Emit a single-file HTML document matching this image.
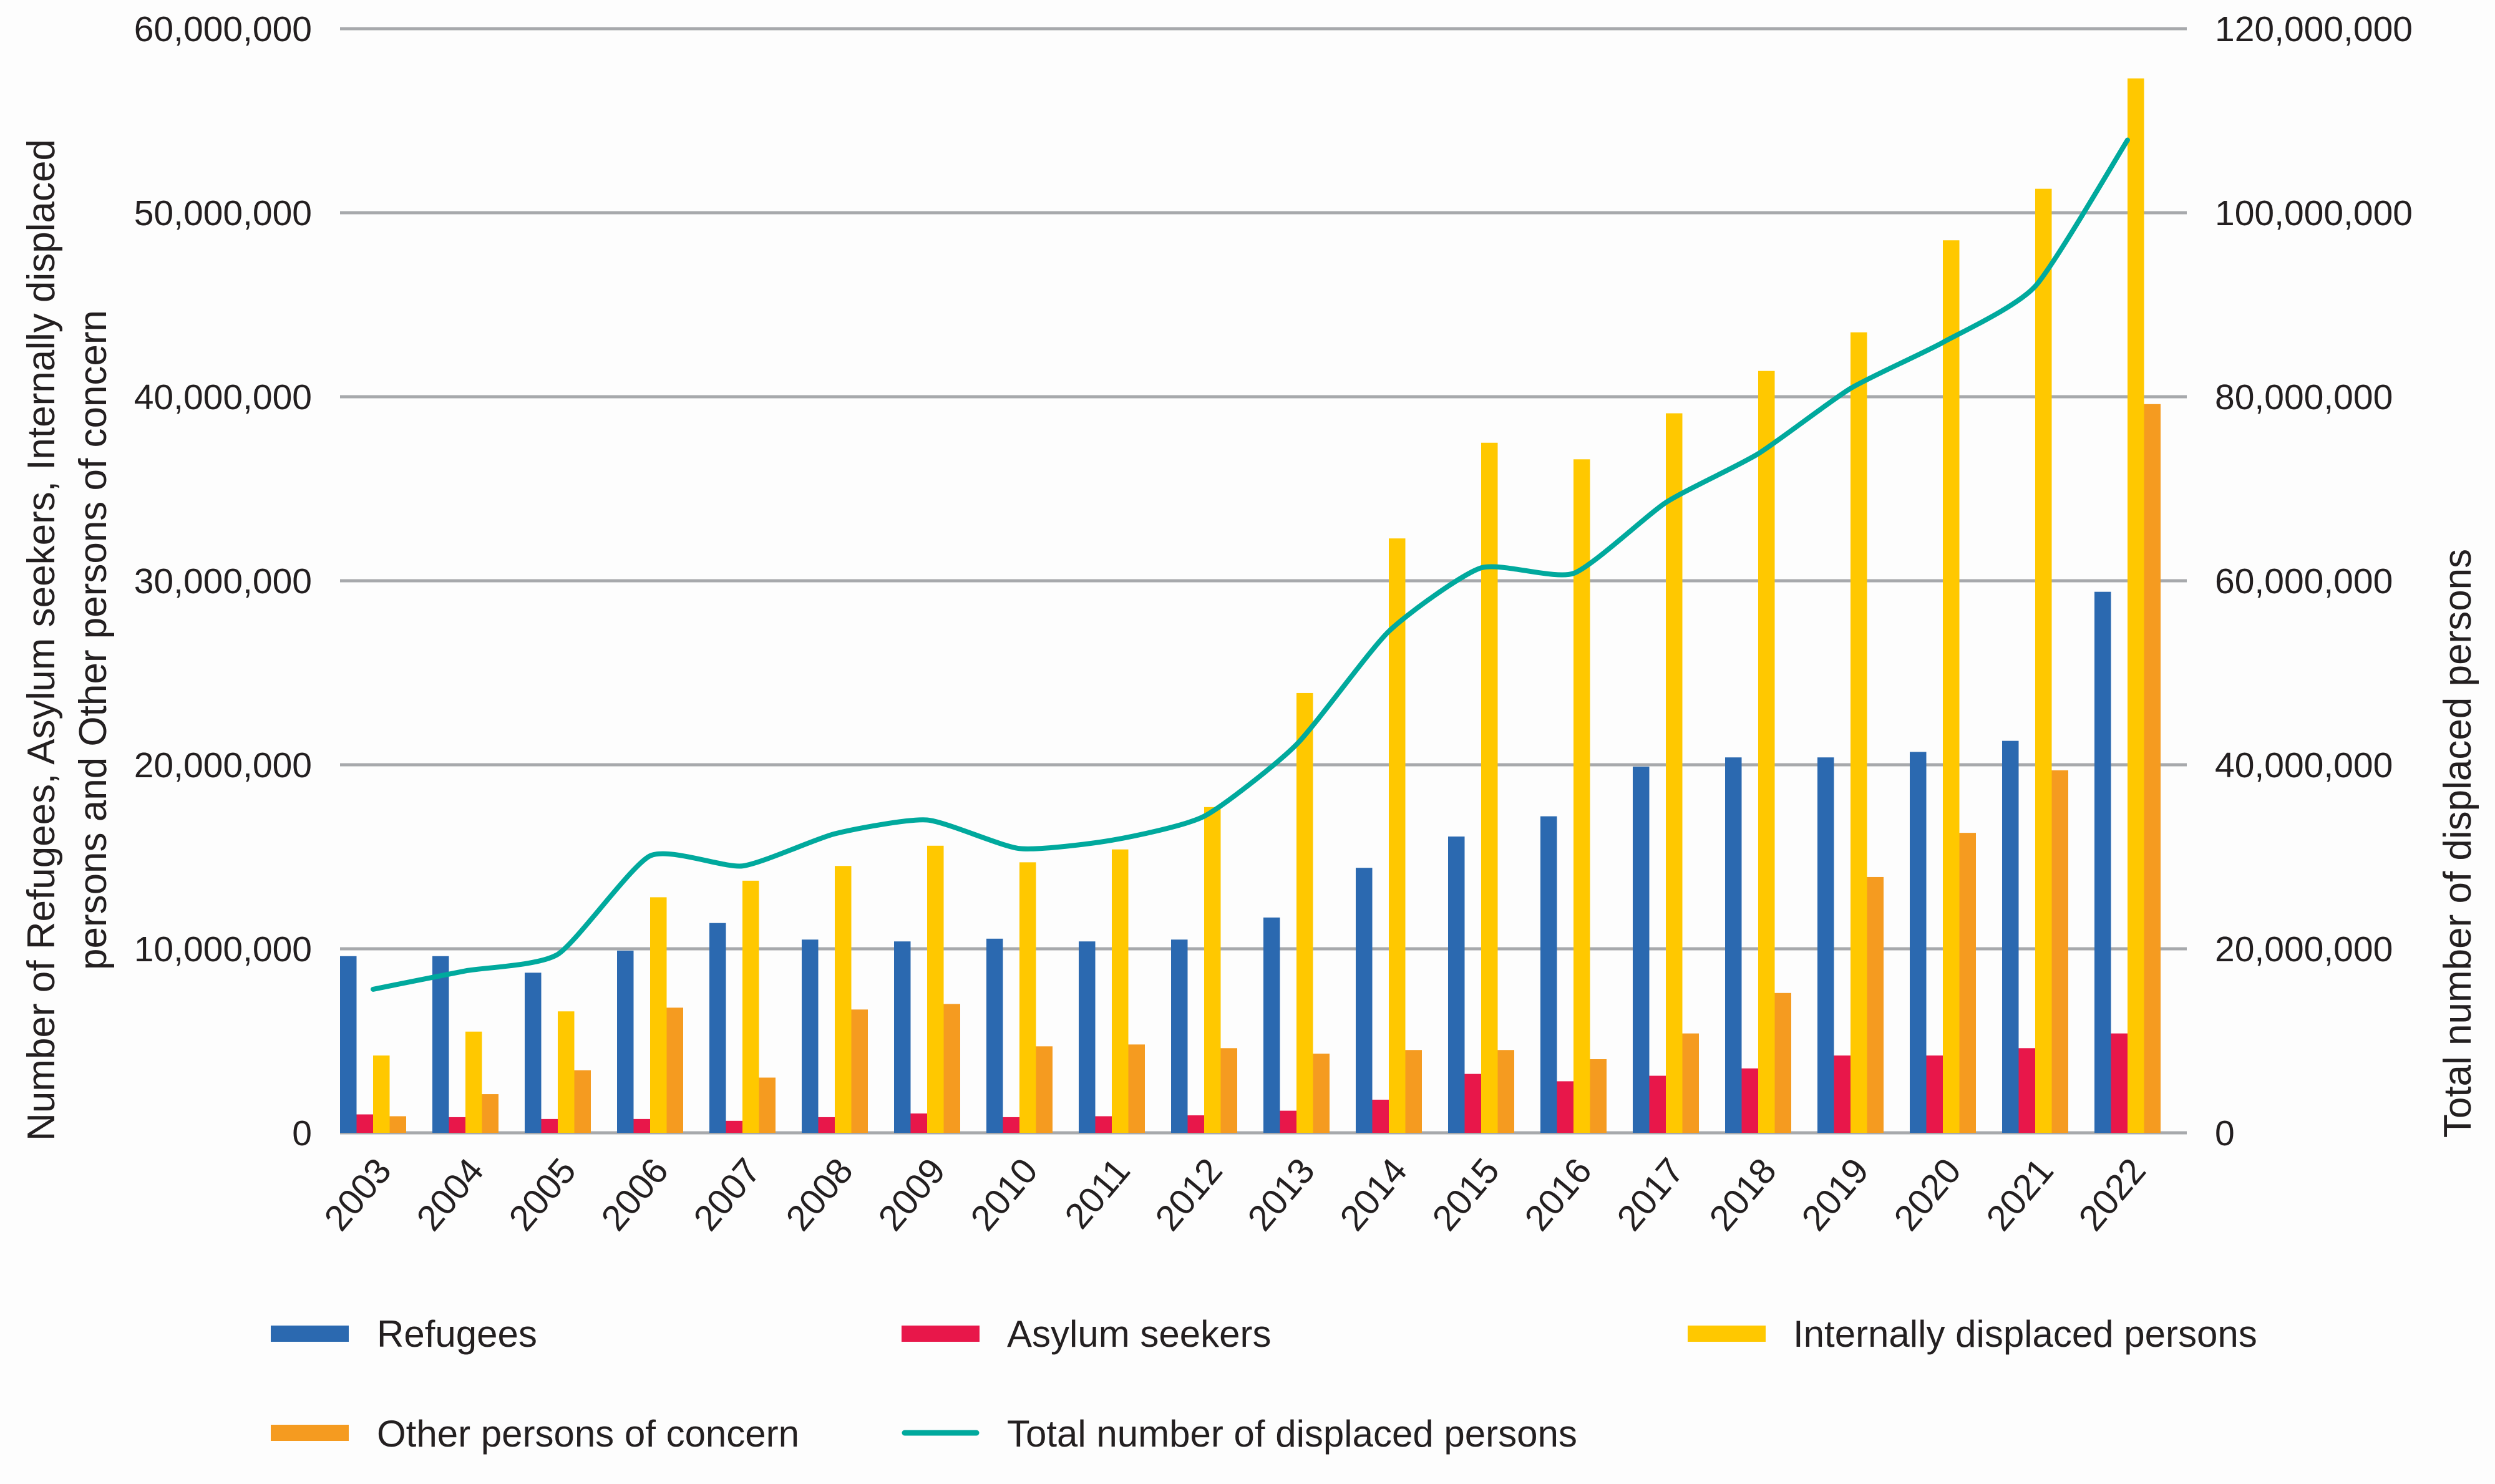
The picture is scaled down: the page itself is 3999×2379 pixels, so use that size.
<!DOCTYPE html>
<html><head><meta charset="utf-8"><style>
html,body{margin:0;padding:0;background:#fdfdfd}
svg{display:block}
text{font-family:"Liberation Sans",sans-serif;fill:#231f20}
</style></head><body>
<svg id="chart" width="3999" height="2379" viewBox="0 0 3999 2379" xmlns="http://www.w3.org/2000/svg">
<rect x="0" y="0" width="3999" height="2379" fill="#fdfdfd"/>
<g id="grid"></g>
<g id="bars"></g>
<g id="line"></g>
<g id="axes"></g>
<text transform="translate(87,1026) rotate(-90)" text-anchor="middle" font-size="62">Number of Refugees, Asylum seekers, Internally displaced</text>
<text transform="translate(170,1026) rotate(-90)" text-anchor="middle" font-size="62">persons and Other persons of concern</text>
<text transform="translate(3960,1352) rotate(-90)" text-anchor="middle" font-size="62">Total number of displaced persons</text>
<g>
<rect x="434" y="2125" width="125" height="26" fill="#2b69b0"/>
<text x="604" y="2159" font-size="60">Refugees</text>
<rect x="1445" y="2125" width="125" height="26" fill="#e8174a"/>
<text x="1614" y="2159" font-size="60">Asylum seekers</text>
<rect x="2705" y="2125" width="125" height="26" fill="#ffc800"/>
<text x="2874" y="2159" font-size="60">Internally displaced persons</text>
<rect x="434" y="2284" width="125" height="26" fill="#f59b20"/>
<text x="604" y="2319" font-size="60">Other persons of concern</text>
<line x1="1450" y1="2297" x2="1565" y2="2297" stroke="#00a99d" stroke-width="9" stroke-linecap="round"/>
<text x="1614" y="2319" font-size="60">Total number of displaced persons</text>
</g>
</svg>
<script>
const years=["2003","2004","2005","2006","2007","2008","2009","2010","2011","2012","2013","2014","2015","2016","2017","2018","2019","2020","2021","2022"];
const refugees=[9.6,9.6,8.7,9.9,11.4,10.5,10.4,10.55,10.4,10.5,11.7,14.4,16.1,17.2,19.9,20.4,20.4,20.7,21.3,29.4];
const asylum=[1.0,0.85,0.75,0.75,0.65,0.85,1.05,0.85,0.9,0.95,1.2,1.8,3.2,2.8,3.1,3.5,4.2,4.2,4.6,5.4];
const idp=[4.2,5.5,6.6,12.8,13.7,14.5,15.6,14.7,15.4,17.7,23.9,32.3,37.5,36.6,39.1,41.4,43.5,48.5,51.3,57.3];
const other=[0.9,2.1,3.4,6.8,3.0,6.7,7.0,4.7,4.8,4.6,4.3,4.5,4.5,4.0,5.4,7.6,13.9,16.3,19.7,39.6];
const total=[15.6,17.6,19.4,30.1,29.0,32.5,34.0,30.9,31.8,34.4,42.2,54.5,61.4,60.8,68.5,73.8,80.9,85.9,92.0,107.9];
const leftTicks=[0,10,20,30,40,50,60];
const leftTickLabels=["0","10,000,000","20,000,000","30,000,000","40,000,000","50,000,000","60,000,000"];
const rightTickLabels=["0","20,000,000","40,000,000","60,000,000","80,000,000","100,000,000","120,000,000"];

const NS="http://www.w3.org/2000/svg";
const X0=545,X1=3505,Y0=1816,YT=46;
const band=(X1-X0)/years.length, bw=26.5;
const yL=v=>Y0-(v/60)*(Y0-YT);
const yR=v=>Y0-(v/120)*(Y0-YT);
const gx=i=>X0+i*band;
function mk(tag,attrs,parent){const e=document.createElementNS(NS,tag);for(const k in attrs)e.setAttribute(k,attrs[k]);parent.appendChild(e);return e;}
const grid=document.getElementById('grid'),axes=document.getElementById('axes'),bars=document.getElementById('bars'),lineG=document.getElementById('line');
leftTicks.forEach((t,i)=>{
  const l=mk('line',{x1:X0,x2:X1,y1:yL(t),y2:yL(t),stroke:'#a7a9ac','stroke-width':5},grid);
  
  
  const a=mk('text',{x:500,y:yL(t)+20,'text-anchor':'end','font-size':57},axes);
  a.textContent=leftTickLabels[i];
  
  
  const b=mk('text',{x:3550,y:yL(t)+20,'text-anchor':'start','font-size':57},axes);
  b.textContent=rightTickLabels[i];
  
  
});
const series=[[refugees,'#2b69b0','bar-refugees'],[asylum,'#e8174a','bar-asylum'],[idp,'#ffc800','bar-idp'],[other,'#f59b20','bar-other']];
years.forEach((yr,i)=>{
  series.forEach((s,k)=>{
    const v=s[0][i];
    const r=mk('rect',{x:gx(i)+k*bw,y:yL(v),width:bw,height:Y0-yL(v),fill:s[1]},bars);
    
    
  });
  const cx=gx(i)+2*bw;
  const t=mk('text',{transform:`translate(${cx+32},${1878}) rotate(-50)`,'text-anchor':'end','font-size':58},axes);
  t.textContent=yr;
  
  
});
const pts=total.map((v,i)=>[gx(i)+2*bw,yR(v)]);
let d=`M${pts[0][0]},${pts[0][1]}`;
for(let i=0;i<pts.length-1;i++){
  const p0=pts[Math.max(0,i-1)],p1=pts[i],p2=pts[i+1],p3=pts[Math.min(pts.length-1,i+2)];
  const c1=[p1[0]+(p2[0]-p0[0])/10,p1[1]+(p2[1]-p0[1])/10];
  const c2=[p2[0]-(p3[0]-p1[0])/10,p2[1]-(p3[1]-p1[1])/10];
  d+=` C${c1[0]},${c1[1]} ${c2[0]},${c2[1]} ${p2[0]},${p2[1]}`;
}
const path=mk('path',{d:d,fill:'none',stroke:'#00a99d','stroke-width':8,'stroke-linecap':'round','stroke-linejoin':'round'},lineG);


</script>
</body></html>
